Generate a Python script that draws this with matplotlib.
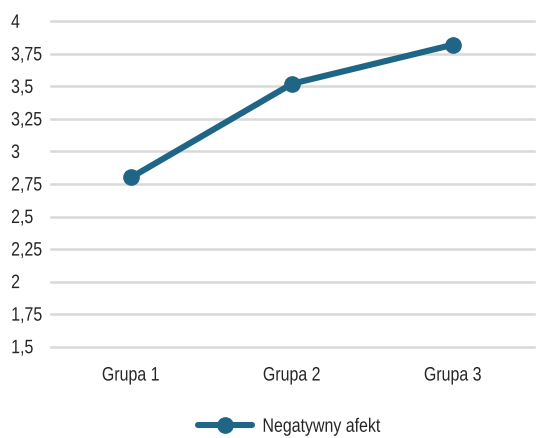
import matplotlib
matplotlib.use("Agg")
import matplotlib.pyplot as plt
from matplotlib import font_manager
from matplotlib.patheffects import AbstractPathEffect
from matplotlib.transforms import Affine2D

categories = ["Grupa 1", "Grupa 2", "Grupa 3"]
values = [2.80, 3.52, 3.82]
series_name = "Negatywny afekt"
y_ticks = [1.5, 1.75, 2.0, 2.25, 2.5, 2.75, 3.0, 3.25, 3.5, 3.75, 4.0]
y_tick_labels = ["1,5", "1,75", "2", "2,25", "2,5", "2,75", "3", "3,25", "3,5", "3,75", "4"]

names = {f.name for f in font_manager.fontManager.ttflist}
family = [f for f in ["Liberation Sans Narrow", "Liberation Sans", "DejaVu Sans"] if f in names]
plt.rcParams["font.family"] = family
narrow_available = "Liberation Sans Narrow" in names


class Condense(AbstractPathEffect):
    """Squeeze glyph outlines horizontally to mimic a narrow typeface."""

    def __init__(self, sx=0.82, anchor="left"):
        super().__init__()
        self.sx = sx
        self.anchor = anchor

    def draw_path(self, renderer, gc, tpath, affine, rgbFace=None):
        ext = tpath.get_extents()
        x0 = ext.x0 if self.anchor == "left" else 0.5 * (ext.x0 + ext.x1)
        t = Affine2D().translate(-x0, 0).scale(self.sx, 1).translate(x0, 0) + affine
        renderer.draw_path(gc, tpath, t, rgbFace)


sx = 1.0 if narrow_available else 0.82

line_color = "#1f6585"
text_color = "#262626"
grid_color = "#d9d9d9"

W, H = 539, 439
fig = plt.figure(figsize=(W / 100, H / 100), dpi=100)
left, right, top, bottom = 50.5, 533.5, 22.3, 347.7
ax = fig.add_axes([left / W, 1 - bottom / H, (right - left) / W, (bottom - top) / H])

x = list(range(len(categories)))
ax.plot(x, values, color=line_color, lw=4.4, marker="o", markersize=11,
        solid_capstyle="round", label=series_name, zorder=3, clip_on=False)

ax.set_xlim(-0.5, len(categories) - 0.5)
ax.set_ylim(y_ticks[0], y_ticks[-1])
ax.set_yticks(y_ticks)
ax.set_yticklabels(y_tick_labels)
ax.set_xticks(x)
ax.set_xticklabels(categories)

for s in ax.spines.values():
    s.set_visible(False)
ax.grid(axis="y", color=grid_color, lw=1.8, zorder=0)
for gl in ax.get_ygridlines():
    gl.set_clip_on(False)
ax.set_axisbelow(True)

ax.tick_params(axis="both", length=0, labelsize=14, colors=text_color)
ax.tick_params(axis="y", pad=28.5)
ax.tick_params(axis="x", pad=15)
for lbl in ax.get_yticklabels():
    lbl.set_horizontalalignment("left")
    if sx != 1.0:
        lbl.set_path_effects([Condense(sx, "left")])
if sx != 1.0:
    for lbl in ax.get_xticklabels():
        lbl.set_path_effects([Condense(sx, "center")])

leg = fig.legend(loc="center left", bbox_to_anchor=(198 / W, 1 - 428 / H), frameon=False,
                 fontsize=14, handlelength=2.8, handletextpad=0.5,
                 borderpad=0, borderaxespad=0, labelcolor=text_color)
if sx != 1.0:
    for t in leg.get_texts():
        t.set_path_effects([Condense(sx, "left")])

fig.savefig("out.png", dpi=100)
